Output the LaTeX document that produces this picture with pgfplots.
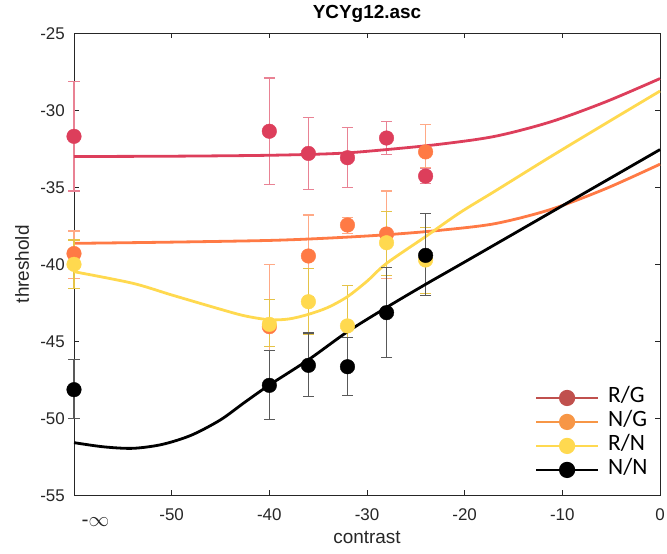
\documentclass[border=0pt]{standalone}
\usepackage{pgfplots}
\pgfplotsset{compat=1.18}
\usepackage{pgfplotstable}
\usepackage{fontspec}
\setmainfont{Liberation Sans}
\newfontfamily\legfont{Carlito}
\definecolor{RG}{RGB}{221,62,91}
\definecolor{NG}{RGB}{255,122,69}
\definecolor{RN}{RGB}{255,217,79}
\definecolor{RGleg}{RGB}{192,80,77}
\definecolor{NGleg}{RGB}{247,150,70}
\definecolor{RNleg}{RGB}{255,217,80}
\definecolor{axcol}{RGB}{38,38,38}

\pgfplotstableread{
x y ep em
-60 -31.69 3.55 3.55
-40 -31.36 3.46 3.44
-36 -32.80 2.32 2.33
-32 -33.08 1.95 1.95
-28 -31.80 1.06 1.06
-24 -34.27 0.50 0.47
}\RGdata
\pgfplotstableread{
x y ep em
-60 -39.30 1.46 1.60
-40 -44.05 4.05 4.05
-36 -39.46 2.66 2.66
-32 -37.45 0.50 0.53
-28 -38.03 2.79 2.92
-24 -32.70 1.80 1.03
}\NGdata
\pgfplotstableread{
x y ep em
-60 -40.00 1.58 1.60
-40 -43.90 1.60 1.45
-36 -42.43 2.17 2.10
-32 -44.00 2.65 2.65
-28 -38.60 2.00 2.10
-24 -39.72 2.12 2.16
}\RNdata
\pgfplotstableread{
x y ep em
-60 -48.14 1.95 1.90
-40 -47.86 2.26 2.23
-36 -46.56 2.10 2.04
-32 -46.65 1.91 1.88
-28 -43.14 2.92 2.92
-24 -39.42 2.70 2.60
}\NNdata

\begin{document}
\begin{tikzpicture}
\begin{axis}[
  scale only axis, width=586bp, height=462bp,
  xmin=-60, xmax=0, ymin=-55, ymax=-25,
  xtick={-50,-40,-30,-20,-10,0}, ytick={-55,-50,-45,-40,-35,-30,-25},
  tick align=inside, major tick length=5bp,
  axis line style={draw=axcol, line width=0.8bp},
  tick style={draw=axcol, line width=0.8bp},
  /pgf/number format/assume math mode=true,
  ticklabel style={font=\fontsize{17}{20}\selectfont, text=axcol},
  xticklabel style={anchor=base, inner sep=0pt, yshift=-25.5bp},
  yticklabel style={anchor=base east, inner sep=0pt, xshift=-9bp, yshift=-5.8bp},
  xlabel={contrast}, ylabel={threshold},
  xlabel style={font=\fontsize{19}{22}\selectfont, text=axcol, at={(axis description cs:0.5,-0.0909)}, anchor=center},
  ylabel style={font=\fontsize{19}{22}\selectfont, text=axcol, at={(axis description cs:-0.0887,0.5)}, anchor=center},
  title={YCYg12.asc},
  title style={font=\bfseries\fontsize{19}{22}\selectfont, at={(axis description cs:0.5,1.028)}, anchor=center},
  clip=false,
  legend image code/.code={\draw[#1, mark repeat=2, mark phase=2] plot coordinates {(0bp,0bp) (31bp,0bp) (62bp,0bp)};},
  legend style={draw=none, fill=none, inner sep=0pt, outer sep=0pt,
    font=\legfont\fontsize{23.5}{25}\selectfont,
    at={(rel axis cs:0.982,0.029)}, anchor=south east,
    row sep=0bp, column sep=7bp,
    nodes={text height=15bp, text depth=5bp}},
  legend cell align=left,
]
\coordinate (sw) at (rel axis cs:0,0);
\coordinate (ne) at (rel axis cs:1,1);

\addlegendimage{RGleg, line width=2.2bp, mark=*, mark size=7bp, mark options={fill=RGleg, draw=RGleg}}
\addlegendentry{R/G}
\addlegendimage{NGleg, line width=2.2bp, mark=*, mark size=7bp, mark options={fill=NGleg, draw=NGleg}}
\addlegendentry{N/G}
\addlegendimage{RNleg, line width=2.2bp, mark=*, mark size=7bp, mark options={fill=RNleg, draw=RNleg}}
\addlegendentry{R/N}
\addlegendimage{black, line width=2.2bp, mark=*, mark size=7bp, mark options={fill=black, draw=black}}
\addlegendentry{N/N}

% R/G
\addplot[forget plot, draw=none, mark=none,
  error bars/.cd, y dir=both, y explicit,
  error bar style={draw=RG!65, line width=1.1bp},
  error mark options={draw=RG!65, line width=1.1bp, mark size=5.5bp, rotate=90}]
  table[x=x, y=y, y error plus=ep, y error minus=em] {\RGdata};
\addplot[forget plot, RG, line width=2.8bp, smooth, mark=none] coordinates {
(-60,-33.0) (-50,-32.98) (-40,-32.92) (-33,-32.8) (-28,-32.55) (-22.5,-32.2) (-16.9,-31.69) (-11.25,-30.76) (-5.6,-29.46) (0,-27.94)};
\addplot[forget plot, only marks, mark=*, mark size=7.3bp, mark options={fill=RG, draw=RG}] table[x=x, y=y] {\RGdata};

% N/G
\addplot[forget plot, draw=none, mark=none,
  error bars/.cd, y dir=both, y explicit,
  error bar style={draw=NG!65, line width=1.1bp},
  error mark options={draw=NG!65, line width=1.1bp, mark size=5.5bp, rotate=90}]
  table[x=x, y=y, y error plus=ep, y error minus=em] {\NGdata};
\addplot[forget plot, NG, line width=2.8bp, smooth, mark=none] coordinates {
(-60,-38.64) (-50,-38.56) (-40,-38.45) (-34,-38.3) (-28,-38.08) (-22.5,-37.79) (-16.9,-37.36) (-11.25,-36.45) (-5.6,-35.1) (0,-33.5)};
\addplot[forget plot, only marks, mark=*, mark size=7.3bp, mark options={fill=NG, draw=NG}] table[x=x, y=y] {\NGdata};

% R/N
\addplot[forget plot, draw=none, mark=none,
  error bars/.cd, y dir=both, y explicit,
  error bar style={draw=RN!90!black, line width=1.1bp},
  error mark options={draw=RN!90!black, line width=1.1bp, mark size=5.5bp, rotate=90}]
  table[x=x, y=y, y error plus=ep, y error minus=em] {\RNdata};
\addplot[forget plot, RN, line width=2.8bp, smooth, mark=none] coordinates {
(-60,-40.48) (-54,-41.23) (-50,-41.99) (-45,-42.92) (-42.5,-43.35) (-40,-43.6) (-38,-43.55) (-36,-43.25) (-34,-42.8) (-32,-42.1) (-30,-41.1) (-28,-39.94) (-24,-38.2) (-20.5,-36.65) (-16.9,-35.25) (-11.25,-33.03) (-5.6,-30.87) (0,-28.75)};
\addplot[forget plot, only marks, mark=*, mark size=7.3bp, mark options={fill=RN, draw=RN}] table[x=x, y=y] {\RNdata};

% N/N
\addplot[forget plot, draw=none, mark=none,
  error bars/.cd, y dir=both, y explicit,
  error bar style={draw=black!65, line width=1.1bp},
  error mark options={draw=black!65, line width=1.1bp, mark size=5.5bp, rotate=90}]
  table[x=x, y=y, y error plus=ep, y error minus=em] {\NNdata};
\addplot[forget plot, black, line width=2.8bp, smooth, mark=none] coordinates {
(-60,-51.58) (-57,-51.85) (-54,-51.95) (-51,-51.7) (-48,-51.1) (-45,-50.1) (-42.5,-48.95) (-40,-47.84) (-36,-46.2) (-32,-44.38) (-28,-42.8) (-24,-41.3) (-20,-39.85) (-10,-36.2) (0,-32.55)};
\addplot[forget plot, only marks, mark=*, mark size=7.3bp, mark options={fill=black, draw=black}] table[x=x, y=y] {\NNdata};

\node[anchor=base, inner sep=0pt, font=\fontsize{21}{24}\selectfont, text=axcol, yshift=-31bp] at (axis cs:-57.8,-55) {-\(\infty\)};
\end{axis}
\pgfresetboundingbox
\path[use as bounding box] ([shift={(-74bp,-57.7bp)}]sw) rectangle ([shift={(7bp,33.3bp)}]ne);
\end{tikzpicture}
\end{document}
